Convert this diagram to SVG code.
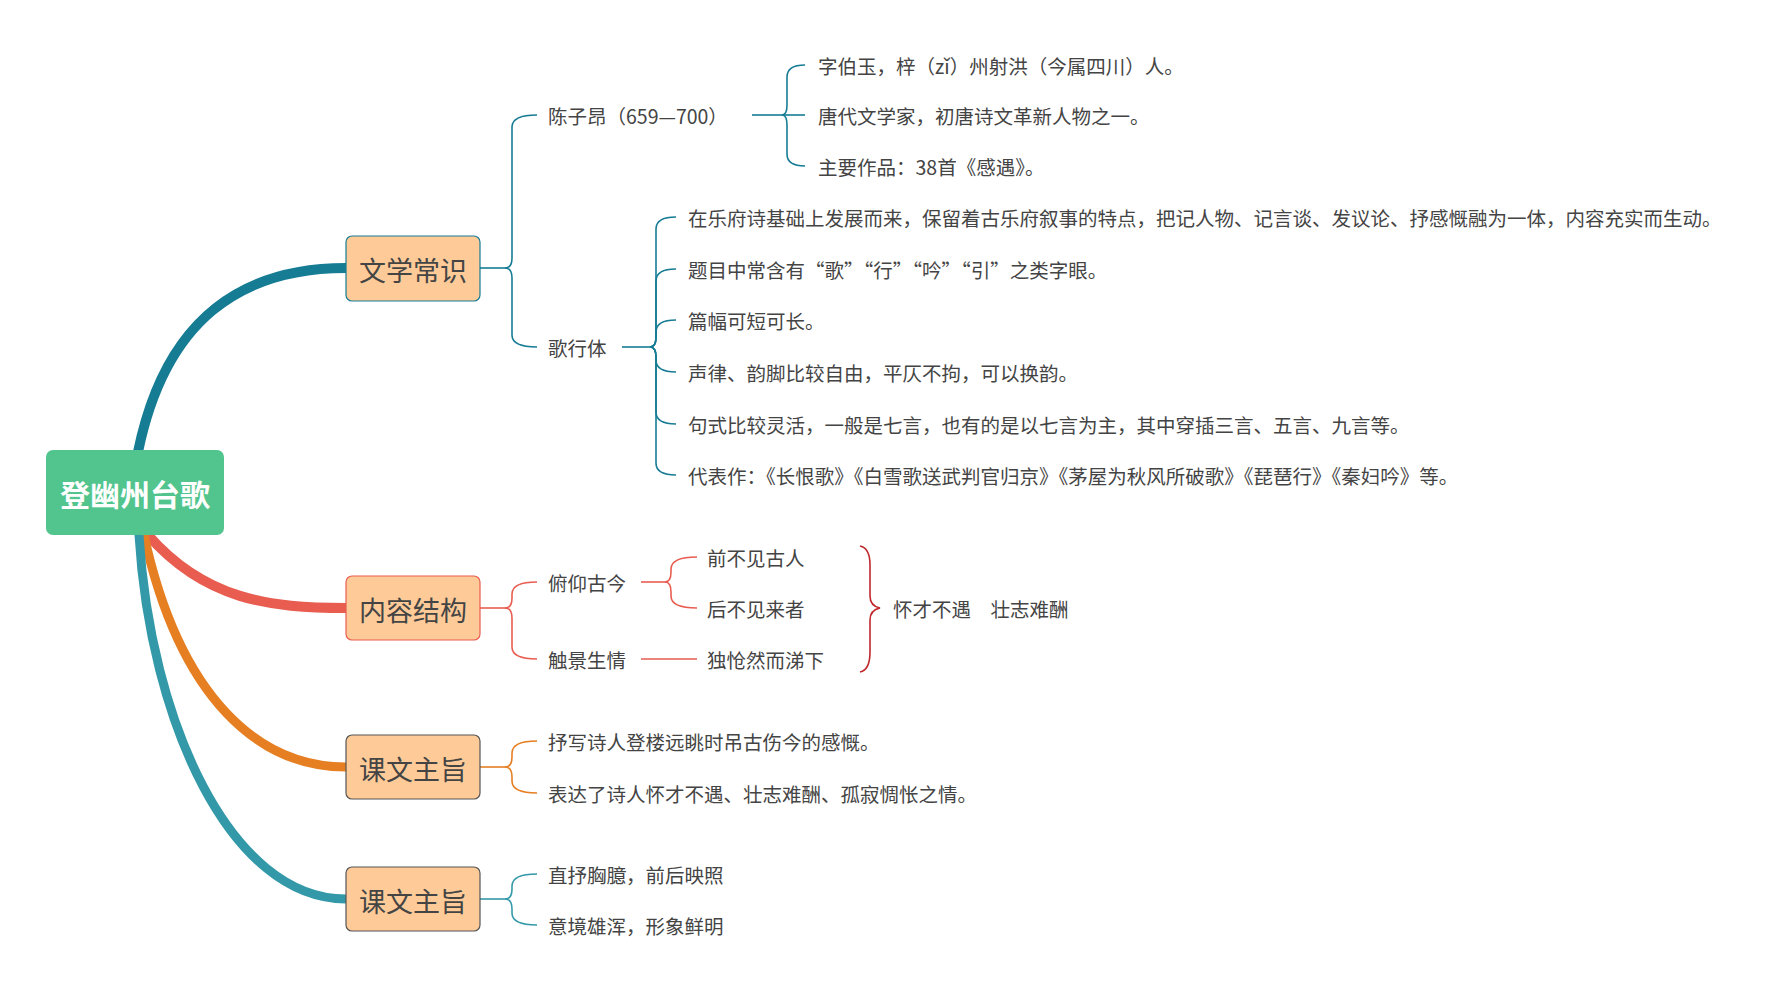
<svg xmlns="http://www.w3.org/2000/svg" width="1777" height="985" viewBox="0 0 1777 985">
<style>
text{font-family:"Noto Sans CJK SC","Noto Sans",sans-serif;fill:#444;dominant-baseline:central}
.t{font-size:19.5px}
.b{font-size:27px;text-anchor:middle}
.box{fill:#fecb98;rx:6}
.thin{fill:none;stroke-width:1.6}
.main{fill:none;stroke-linecap:round}
</style>
<rect width="1777" height="985" fill="#fff"/>
<g id="connectors">
<path class="main" d="M138,452 C165,320 240,268 346,268" stroke="#167c94" stroke-width="10"/>
<path class="main" d="M148,535 C205,600 270,608 346,608" stroke="#e85d50" stroke-width="10"/>
<path class="main" d="M144,535 C180,700 260,767 346,767" stroke="#e67e22" stroke-width="9"/>
<path class="main" d="M139,535 C150,720 230,899 346,899" stroke="#3399a8" stroke-width="9"/>
<g class="thin" stroke="#167c94">
<path d="M480,268 H505"/>
<path d="M505,268 Q512,268 512,258 L512,127 Q512,115 537,115"/>
<path d="M505,268 Q512,268 512,278 L512,335 Q512,347 537,347"/>
<path d="M752,115 H782"/>
<path d="M782,115 Q787,115 787,105 L787,77 Q787,65 805,65"/>
<path d="M782,115 H805"/>
<path d="M782,115 Q787,115 787,125 L787,154 Q787,166 805,166"/>
<path d="M622,347 H650"/>
<path d="M650,347 Q656,347 656,337 L656,229 Q656,217 676,217"/>
<path d="M650,347 Q656,347 656,337 L656,281 Q656,269 676,269"/>
<path d="M650,347 Q656,347 656,337 L656,332 Q656,320 676,320"/>
<path d="M650,347 Q656,347 656,357 L656,360 Q656,372 676,372"/>
<path d="M650,347 Q656,347 656,357 L656,412 Q656,424 676,424"/>
<path d="M650,347 Q656,347 656,357 L656,463 Q656,475 676,475"/>
</g>
<g class="thin" stroke="#e85d50">
<path d="M480,608 H505"/>
<path d="M505,608 Q512,608 512,598 L512,594 Q512,582 537,582"/>
<path d="M505,608 Q512,608 512,618 L512,647 Q512,659 537,659"/>
<path d="M641,582 H665"/>
<path d="M665,582 Q671,582 671,572 L671,569 Q671,557 697,557"/>
<path d="M665,582 Q671,582 671,592 L671,596 Q671,608 697,608"/>
<path d="M641,659 H697"/>
</g>
<path class="thin" stroke="#c0282d" d="M860,546 Q870,548 870,565 L870,596 Q870,606 880,608 Q870,610 870,620 L870,652 Q870,670 860,672"/>
<g class="thin" stroke="#e67e22">
<path d="M480,767 H505"/>
<path d="M505,767 Q512,767 512,757 L512,753 Q512,741 537,741"/>
<path d="M505,767 Q512,767 512,777 L512,781 Q512,793 537,793"/>
</g>
<g class="thin" stroke="#3399a8">
<path d="M480,899 H505"/>
<path d="M505,899 Q512,899 512,889 L512,886 Q512,874 537,874"/>
<path d="M505,899 Q512,899 512,909 L512,913 Q512,925 537,925"/>
</g>
</g>
<g id="root"><rect x="46" y="450" width="178" height="85" rx="7" fill="#52c48d"/><text x="135" y="493" style="font-size:30px;font-weight:bold;fill:#fff;text-anchor:middle">登幽州台歌</text></g>
<g id="n1"><rect class="box" x="346" y="236" width="134" height="65" stroke="#167c94" stroke-width="1.2"/><text class="b" x="413" y="269">文学常识</text></g>
<g id="n2"><rect class="box" x="346" y="576" width="134" height="64" stroke="#e85d50" stroke-width="1.2"/><text class="b" x="413" y="609">内容结构</text></g>
<g id="n3"><rect class="box" x="346" y="735" width="134" height="64" stroke="#555" stroke-width="1.2"/><text class="b" x="413" y="768">课文主旨</text></g>
<g id="n4"><rect class="box" x="346" y="867" width="134" height="64" stroke="#555" stroke-width="1.2"/><text class="b" x="413" y="900">课文主旨</text></g>
<g id="texts">
<text class="t" x="548" y="115">陈子昂（659—700）</text>
<text class="t" x="818" y="65">字伯玉，梓（zǐ）州射洪（今属四川）人。</text>
<text class="t" x="818" y="115">唐代文学家，初唐诗文革新人物之一。</text>
<text class="t" x="818" y="166">主要作品：38首《感遇》。</text>
<text class="t" x="548" y="347">歌行体</text>
<text class="t" x="688" y="217">在乐府诗基础上发展而来，保留着古乐府叙事的特点，把记人物、记言谈、发议论、抒感慨融为一体，内容充实而生动。</text>
<text class="t" x="688" y="269">题目中常含有“歌”“行”“吟”“引”之类字眼。</text>
<text class="t" x="688" y="320">篇幅可短可长。</text>
<text class="t" x="688" y="372">声律、韵脚比较自由，平仄不拘，可以换韵。</text>
<text class="t" x="688" y="424">句式比较灵活，一般是七言，也有的是以七言为主，其中穿插三言、五言、九言等。</text>
<text class="t" x="688" y="475">代表作：《长恨歌》《白雪歌送武判官归京》《茅屋为秋风所破歌》《琵琶行》《秦妇吟》等。</text>
<text class="t" x="548" y="582">俯仰古今</text>
<text class="t" x="548" y="659">触景生情</text>
<text class="t" x="707" y="557">前不见古人</text>
<text class="t" x="707" y="608">后不见来者</text>
<text class="t" x="707" y="659">独怆然而涕下</text>
<text class="t" x="893" y="608">怀才不遇　壮志难酬</text>
<text class="t" x="548" y="741">抒写诗人登楼远眺时吊古伤今的感慨。</text>
<text class="t" x="548" y="793">表达了诗人怀才不遇、壮志难酬、孤寂惆怅之情。</text>
<text class="t" x="548" y="874">直抒胸臆，前后映照</text>
<text class="t" x="548" y="925">意境雄浑，形象鲜明</text>
</g>
</svg>
